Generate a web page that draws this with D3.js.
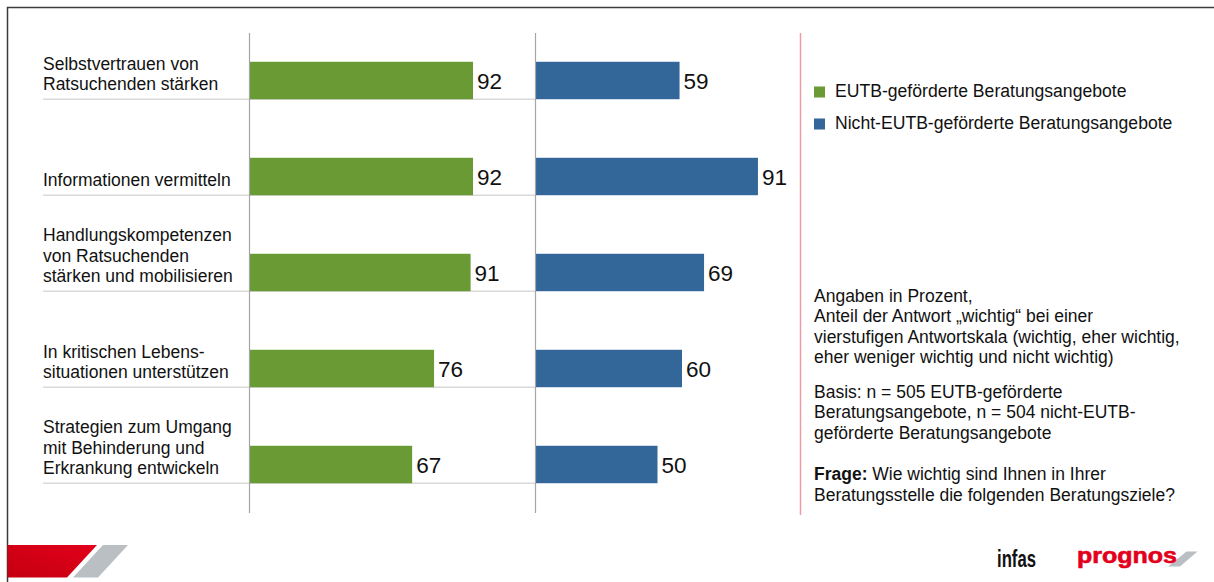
<!DOCTYPE html>
<html>
<head>
<meta charset="utf-8">
<script src="https://cdn.jsdelivr.net/npm/d3@7"></script>
<style>
  body { margin: 0; background: #fff; }
  svg { display: block; font-family: "Liberation Sans", Arial, sans-serif; }
</style>
</head>
<body>
<svg id="chart"></svg>
<script>
var width = 1214,
  height = 582;

// data
var categories = [
  ['Selbstvertrauen von', 'Ratsuchenden stärken'],
  ['Informationen vermitteln'],
  ['Handlungskompetenzen', 'von Ratsuchenden', 'stärken und mobilisieren'],
  ['In kritischen Lebens-', 'situationen unterstützen'],
  ['Strategien zum Umgang', 'mit Behinderung und', 'Erkrankung entwickeln']
];
var eutb = [92, 92, 91, 76, 67];
var nichtEutb = [59, 91, 69, 60, 50];
var seriesNames = ['EUTB-geförderte Beratungsangebote', 'Nicht-EUTB-geförderte Beratungsangebote'];
var colors = ['#699a34', '#346799'];

var notes = [
  ['Angaben in Prozent,', 'Anteil der Antwort \u201Ewichtig\u201C bei einer', 'vierstufigen Antwortskala (wichtig, eher wichtig,', 'eher weniger wichtig und nicht wichtig)'],
  ['Basis: n = 505 EUTB-geförderte', 'Beratungsangebote, n = 504 nicht-EUTB-', 'geförderte Beratungsangebote']
];
var question = ['Wie wichtig sind Ihnen in Ihrer', 'Beratungsstelle die folgenden Beratungsziele?'];

var svg = d3.select('#chart')
  .attr('width', width)
  .attr('height', height);

// frame
svg.append('path')
  .attr('d', 'M7.5,' + height + 'V7.5H' + width)
  .attr('fill', 'none')
  .attr('stroke', '#3a3a3a')
  .attr('stroke-width', 1.5);

var y = d3.scaleBand()
  .domain(d3.range(categories.length))
  .range([32.5, 512.5])
  .paddingInner(0.61)
  .paddingOuter(0.305);

var xG = d3.scaleLinear().domain([0, 100]).range([249, 492.5]);
var xB = d3.scaleLinear().domain([0, 100]).range([535, 780]);

// row separators
svg.append('g')
  .selectAll('line')
  .data(d3.range(categories.length))
  .enter().append('line')
  .attr('x1', 43)
  .attr('x2', xB(0))
  .attr('y1', function(d) { return y(d) + y.bandwidth(); })
  .attr('y2', function(d) { return y(d) + y.bandwidth(); })
  .attr('stroke', '#d9d9d9')
  .attr('stroke-width', 1.5);

// category labels
svg.append('g')
  .selectAll('text')
  .data(categories)
  .enter().append('text')
  .attr('font-size', 17.5)
  .attr('fill', '#111')
  .each(function(lines, i) {
    var last = y(i) + y.bandwidth() - 9;
    d3.select(this).selectAll('tspan')
      .data(lines)
      .enter().append('tspan')
      .attr('x', 43)
      .attr('y', function(d, j) { return last - (lines.length - 1 - j) * 20.5; })
      .text(function(d) { return d; });
  });

// bars
function drawPanel(values, x, color) {
  var g = svg.append('g');
  g.selectAll('rect')
    .data(values)
    .enter().append('rect')
    .attr('x', x(0))
    .attr('y', function(d, i) { return y(i); })
    .attr('width', function(d) { return x(d) - x(0); })
    .attr('height', y.bandwidth())
    .attr('fill', color);

  g.selectAll('.value')
    .data(values)
    .enter().append('text')
    .attr('class', 'value')
    .attr('x', function(d) { return x(d) + 4; })
    .attr('y', function(d, i) { return y(i) + y.bandwidth() / 2; })
    .attr('dy', '0.36em')
    .attr('font-size', 22.5)
    .attr('fill', '#111')
    .text(function(d) { return d; });

  var axis = svg.append('g')
    .attr('transform', 'translate(' + x(0) + ',0)')
    .call(d3.axisLeft(y).tickSize(0).tickSizeOuter(0).tickFormat(''));
  axis.select('.domain')
    .attr('stroke', '#a6a6a6')
    .attr('stroke-width', 1.2);
}

drawPanel(eutb, xG, colors[0]);
drawPanel(nichtEutb, xB, colors[1]);

// red divider
svg.append('line')
  .attr('x1', 800.5).attr('x2', 800.5)
  .attr('y1', 33).attr('y2', 515)
  .attr('stroke', '#ef9aa4')
  .attr('stroke-width', 1.5);

// legend
var legend = svg.append('g')
  .selectAll('g')
  .data(seriesNames)
  .enter().append('g')
  .attr('transform', function(d, i) { return 'translate(814,' + (86.5 + i * 32) + ')'; });

legend.append('rect')
  .attr('width', 11)
  .attr('height', 11)
  .attr('fill', function(d, i) { return colors[i]; });

legend.append('text')
  .attr('x', 21)
  .attr('y', 10)
  .attr('font-size', 17.6)
  .attr('fill', '#111')
  .text(function(d) { return d; });

// notes
var noteText = svg.append('text')
  .attr('font-size', 17.5)
  .attr('fill', '#111');

var ny = 301.5;
notes.forEach(function(par, p) {
  par.forEach(function(line) {
    noteText.append('tspan').attr('x', 814).attr('y', ny).text(line);
    ny += 20.5;
  });
  ny += p === 0 ? 14 : 21;
});
question.forEach(function(line, i) {
  var t = noteText.append('tspan').attr('x', 814).attr('y', ny);
  if (i === 0) {
    t.append('tspan').attr('font-weight', 'bold').text('Frage:');
    t.append('tspan').text(' ' + line);
  } else {
    t.text(line);
  }
  ny += 20.5;
});

// footer logos
var grad = svg.append('defs').append('linearGradient')
  .attr('id', 'redgrad')
  .attr('x1', 0).attr('y1', 1).attr('x2', 1).attr('y2', 0);
grad.append('stop').attr('offset', 0).attr('stop-color', '#c4000f');
grad.append('stop').attr('offset', 1).attr('stop-color', '#e3001b');

svg.append('path')
  .attr('d', 'M7.5,545H97L67,577.5H7.5Z')
  .attr('fill', 'url(#redgrad)');
svg.append('path')
  .attr('d', 'M103,545H128L98,577.5H73Z')
  .attr('fill', '#b9bfc3');

svg.append('text')
  .attr('x', 997)
  .attr('y', 566.5)
  .attr('font-family', '"Liberation Sans Narrow", "Liberation Sans", Arial, sans-serif')
  .attr('font-weight', 'bold')
  .attr('font-size', 24)
  .attr('textLength', 39)
  .attr('lengthAdjust', 'spacingAndGlyphs')
  .attr('fill', '#111')
  .text('infas');

svg.append('path')
  .attr('d', 'M1186.5,551.5H1197.5L1180,566.5H1168Z')
  .attr('fill', '#b9bfc3');

svg.append('text')
  .attr('x', 1077)
  .attr('y', 563)
  .attr('font-weight', 'bold')
  .attr('font-size', 22)
  .attr('textLength', 100)
  .attr('lengthAdjust', 'spacingAndGlyphs')
  .attr('fill', '#e3001b')
  .attr('stroke', '#e3001b')
  .attr('stroke-width', 0.6)
  .text('prognos');
</script>
</body>
</html>
